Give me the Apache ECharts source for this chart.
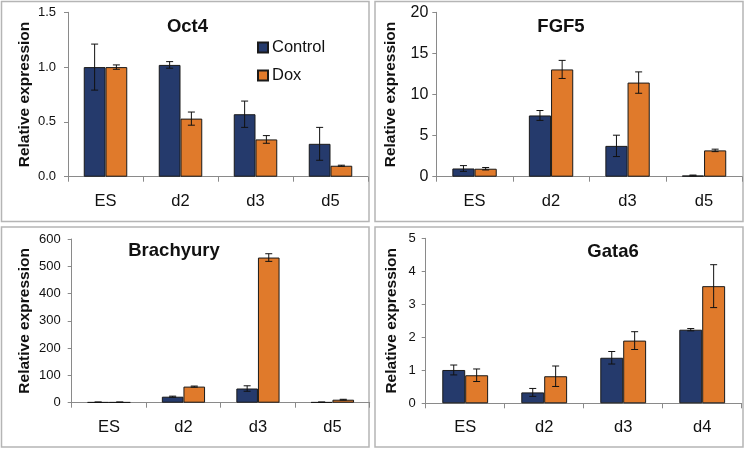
<!DOCTYPE html>
<html><head><meta charset="utf-8">
<script src="https://cdn.jsdelivr.net/npm/echarts@6/dist/echarts.min.js"></script>
<style>html,body{margin:0;padding:0;background:#fff}#c{width:746px;height:449px}</style>
</head><body><div id="c"></div>
<script>
// ---- data ----
const catsA = ['ES', 'd2', 'd3', 'd5'];
const catsB = ['ES', 'd2', 'd3', 'd4'];
const panelTitles = ['Oct4', 'FGF5', 'Brachyury', 'Gata6'];
const seriesNames = ['Control', 'Dox'];

const oct4Control = [1.00, 1.02, 0.57, 0.30];
const oct4ControlErr = [0.21, 0.03, 0.12, 0.15];
const oct4Dox = [1.00, 0.53, 0.34, 0.10];
const oct4DoxErr = [0.02, 0.06, 0.035, 0.005];

const fgf5Control = [1.0, 7.45, 3.75, 0.15];
const fgf5ControlErr = [0.35, 0.6, 1.3, 0.05];
const fgf5Dox = [0.97, 13.05, 11.45, 3.2];
const fgf5DoxErr = [0.15, 1.1, 1.3, 0.15];

const brachyControl = [2, 22, 52, 2];
const brachyControlErr = [0.5, 2, 10, 0.5];
const brachyDox = [2, 59, 532, 11];
const brachyDoxErr = [0.5, 2, 14, 1.5];

const gata6Control = [1.01, 0.33, 1.38, 2.23];
const gata6ControlErr = [0.15, 0.12, 0.19, 0.035];
const gata6Dox = [0.85, 0.82, 1.9, 3.55];
const gata6DoxErr = [0.19, 0.31, 0.27, 0.65];

const yMax = [1.5, 20, 600, 5];
const yStep = [0.5, 5, 100, 1];

// ---- styling / layout ----
const NAVY = '#253a6c', ORANGE = '#e07a2b';
const FONT = 'Liberation Sans, Arial, sans-serif';
const grids = [
  {left: 68, top: 12.3, width: 300, height: 164.4},
  {left: 436.3, top: 12.3, width: 306, height: 164.4},
  {left: 71.7, top: 239, width: 298, height: 163.7},
  {left: 425.7, top: 238.3, width: 316, height: 165}
];
const nameGaps = [35, 38, 38.7, 26];
const yLabelSize = [13, 16, 13, 13];
const yLabelMargin = [12, 8, 11, 10];
const titlePos = [[187.5, 27], [561, 27], [174, 251], [613, 252]];
const panelRects = [[1.5, 1.5, 367.5, 220], [375, 1.5, 368, 220], [1.5, 227, 367.5, 220], [375, 227, 368, 220]];

const panels = [
  [catsA, oct4Control, oct4ControlErr, oct4Dox, oct4DoxErr],
  [catsA, fgf5Control, fgf5ControlErr, fgf5Dox, fgf5DoxErr],
  [catsA, brachyControl, brachyControlErr, brachyDox, brachyDoxErr],
  [catsB, gata6Control, gata6ControlErr, gata6Dox, gata6DoxErr]
];

function errItem(params, api) {
  const c = api.value(0);
  const side = api.value(3);
  const cw = api.size([1, 0])[0];
  const x = api.coord([c, 0])[0] + side * cw * 0.145;
  const yl = api.coord([c, api.value(1)])[1];
  const yh = api.coord([c, api.value(2)])[1];
  const w = 3.5;
  const st = {stroke: '#111', lineWidth: 1};
  return {type: 'group', children: [
    {type: 'line', shape: {x1: x, y1: yl, x2: x, y2: yh}, style: st},
    {type: 'line', shape: {x1: x - w, y1: yh, x2: x + w, y2: yh}, style: st},
    {type: 'line', shape: {x1: x - w, y1: yl, x2: x + w, y2: yl}, style: st}
  ]};
}

const xAxis = [], yAxis = [], series = [], graphic = [];
panels.forEach((p, i) => {
  const [cats, ctrl, ctrlErr, dox, doxErr] = p;
  xAxis.push({
    type: 'category', gridIndex: i, data: cats,
    axisLine: {lineStyle: {color: '#8a8a8a', width: 1}},
    axisTick: {show: true, length: 5, lineStyle: {color: '#8a8a8a'}},
    axisLabel: {fontSize: 16.5, color: '#111', margin: 16, fontFamily: FONT}
  });
  yAxis.push({
    type: 'value', gridIndex: i, min: 0, max: yMax[i], interval: yStep[i],
    name: 'Relative expression', nameLocation: 'middle', nameGap: nameGaps[i],
    nameTextStyle: {fontSize: 15.5, fontWeight: 'bold', color: '#111', fontFamily: FONT},
    axisLine: {show: true, lineStyle: {color: '#8a8a8a', width: 1}},
    axisTick: {show: true, inside: false, length: 4, lineStyle: {color: '#8a8a8a'}},
    splitLine: {show: false},
    axisLabel: {fontSize: yLabelSize[i], color: '#111', margin: yLabelMargin[i], fontFamily: FONT,
      formatter: i === 0 ? (v => v.toFixed(1)) : (v => String(v))}
  });
  [[ctrl, NAVY, seriesNames[0]], [dox, ORANGE, seriesNames[1]]].forEach(([vals, col, nm]) => {
    series.push({
      type: 'bar', name: nm, xAxisIndex: i, yAxisIndex: i, data: vals,
      barGap: '0%', barCategoryGap: '42%',
      itemStyle: {color: col, borderColor: '#1a1a1a', borderWidth: 1},
      emphasis: {disabled: true}, z: 2
    });
  });
  const errData = [];
  cats.forEach((c, k) => {
    errData.push([k, ctrl[k] - ctrlErr[k], ctrl[k] + ctrlErr[k], -1]);
    errData.push([k, dox[k] - doxErr[k], dox[k] + doxErr[k], 1]);
  });
  series.push({
    type: 'custom', xAxisIndex: i, yAxisIndex: i, renderItem: errItem,
    data: errData, z: 5, silent: true,
    encode: {x: 0, y: [1, 2]}
  });
  const r = panelRects[i];
  graphic.push({type: 'rect', shape: {x: r[0], y: r[1], width: r[2], height: r[3]},
    style: {fill: 'none', stroke: '#b5b5b5', lineWidth: 1.5}, silent: true, z: 0});
  graphic.push({type: 'text', x: titlePos[i][0], y: titlePos[i][1],
    style: {text: panelTitles[i], font: 'bold 18.5px ' + FONT, fill: '#111',
      textAlign: 'center', textVerticalAlign: 'middle'}, z: 10});
});

const chart = echarts.init(document.getElementById('c'), null, {renderer: 'canvas'});
chart.setOption({
  animation: false,
  backgroundColor: '#fff',
  textStyle: {fontFamily: FONT},
  grid: grids.map(g => Object.assign({containLabel: false}, g)),
  xAxis, yAxis, series, graphic,
  legend: {
    data: seriesNames, orient: 'vertical', left: 252, top: 34,
    itemWidth: 10, itemHeight: 10, itemGap: 11, icon: 'rect',
    textStyle: {fontSize: 16.5, color: '#111', fontFamily: FONT, padding: [0, 0, 0, -1]},
    selectedMode: false
  }
});
</script></body></html>
